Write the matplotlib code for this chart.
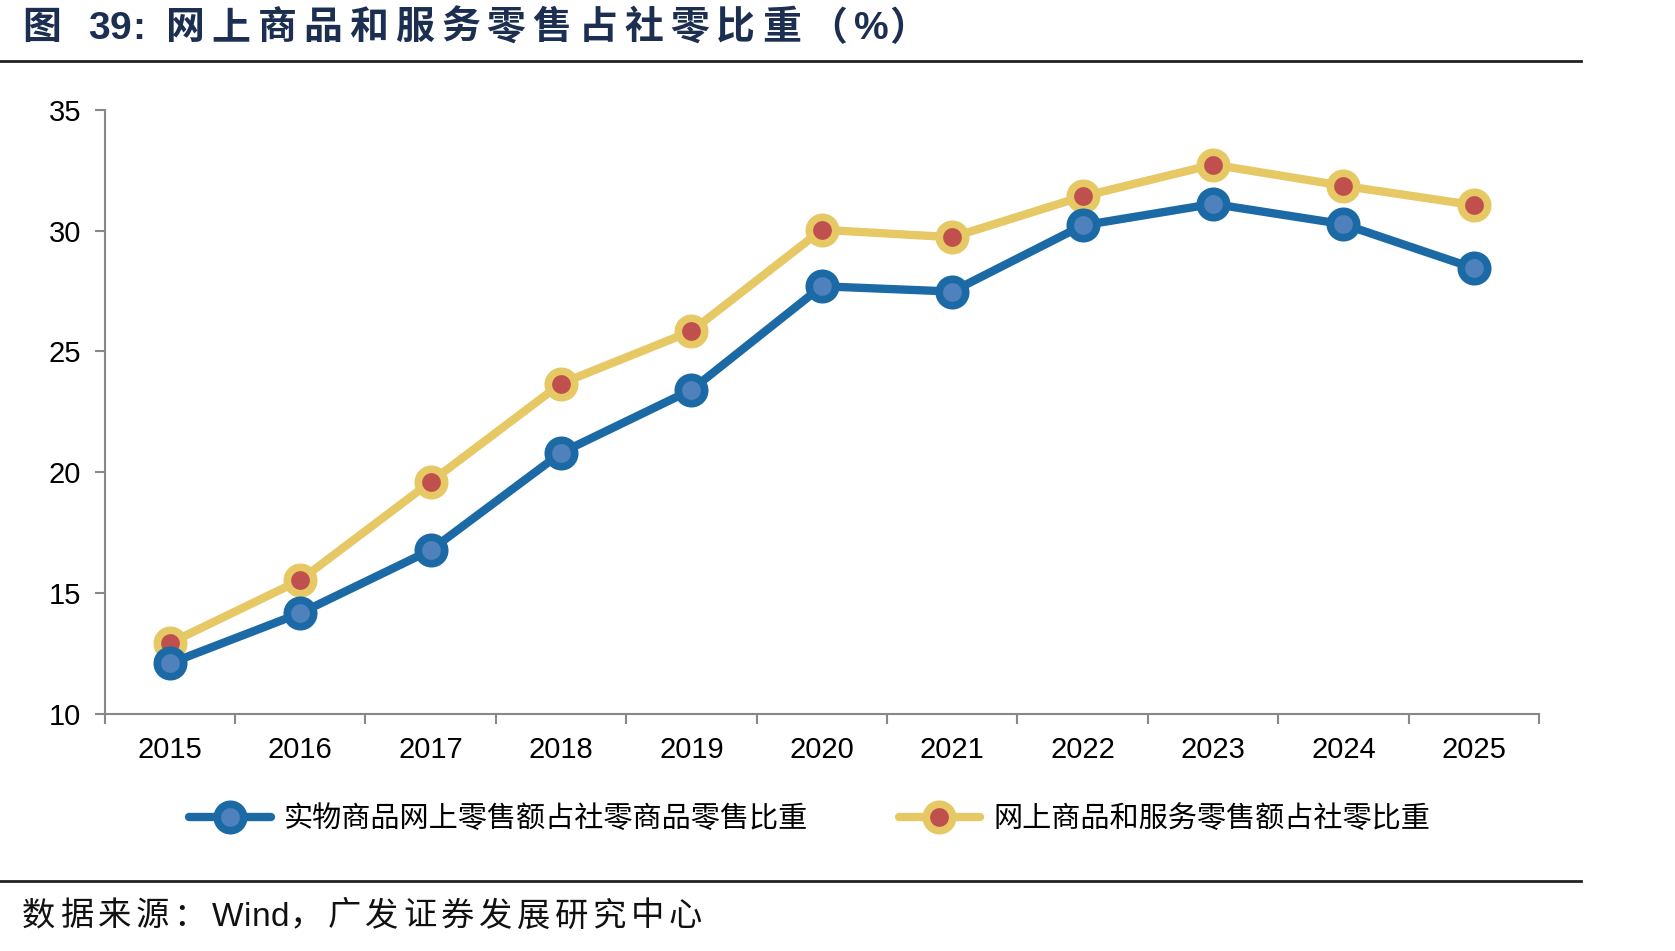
import matplotlib
matplotlib.use("Agg")
import matplotlib.pyplot as plt
from matplotlib.lines import Line2D

plt.rcParams['font.family'] = ['Liberation Sans', 'Noto Sans CJK SC', 'DejaVu Sans']

years = ['2015', '2016', '2017', '2018', '2019', '2020', '2021', '2022', '2023', '2024', '2025']
physical_share = [12.08, 14.16, 16.77, 20.80, 23.41, 27.70, 27.48, 30.22, 31.11, 30.27, 28.45]
online_share = [12.92, 15.53, 19.60, 23.67, 25.84, 30.04, 29.73, 31.42, 32.74, 31.86, 31.06]
series_names = ['实物商品网上零售额占社零商品零售比重', '网上商品和服务零售额占社零比重']
yticks = [10, 15, 20, 25, 30, 35]
title_text = '图 39: 网上商品和服务零售占社零比重（%）'
source_text = '数据来源：Wind，广发证券发展研究中心'

W, H = 1675, 951
fig = plt.figure(figsize=(W / 100, H / 100), dpi=100)
ax = fig.add_axes([104.7 / W, 1 - 713.6 / H, (1539 - 104.7) / W, (713.6 - 110) / H])

x = list(range(len(years)))
blue, blue_in = '#1B6AA6', '#4F81BD'
yel, red = '#E6C864', '#C0504D'

ax.plot(x, online_share, color=yel, lw=6, marker='o', ms=19, mfc=red, mec=yel, mew=5.5,
        solid_capstyle='round', zorder=3)
ax.plot(x, physical_share, color=blue, lw=6, marker='o', ms=19, mfc=blue_in, mec=blue, mew=5.5,
        solid_capstyle='round', zorder=4)

ax.set_xlim(-0.5, len(years) - 0.5)
ax.set_ylim(10, 35)
ax.set_yticks(yticks)
ax.set_yticklabels([str(v) for v in yticks], fontsize=21)
ax.set_xticks(x)
ax.set_xticklabels(years, fontsize=21)
ax.set_xticks([i - 0.5 for i in range(len(years) + 1)], minor=True)
ax.tick_params(axis='x', which='major', length=0, pad=16)
ax.tick_params(axis='x', which='minor', length=7, width=1.5, color='#888888', direction='out')
ax.tick_params(axis='y', length=7, width=1.5, color='#888888', direction='out', pad=10)
for s in ['top', 'right']:
    ax.spines[s].set_visible(False)
for s in ['left', 'bottom']:
    ax.spines[s].set_color('#888888')
    ax.spines[s].set_linewidth(1.5)

handles = [
    Line2D([], [], color=blue, lw=6, marker='o', ms=19, mfc=blue_in, mec=blue, mew=5.5, solid_capstyle='round'),
    Line2D([], [], color=yel, lw=6, marker='o', ms=19, mfc=red, mec=yel, mew=5.5, solid_capstyle='round'),
]
leg = fig.legend(handles, series_names, loc='center', bbox_to_anchor=(758 / 1568, 1 - 819 / H), ncol=2,
                 frameon=False, handlelength=2.8, columnspacing=3.1, handletextpad=0.45,
                 prop={'family': ['Noto Sans CJK SC'], 'size': 21})

renderer = fig.canvas.get_renderer()


def spaced_text(x_px, y_px, s, size, tracking, space_px, **kw):
    xp = x_px
    for ch in s:
        if ch == ' ':
            xp += space_px
            continue
        t = fig.text(xp / W, 1 - y_px / H, ch, fontsize=size, va='center', ha='left', **kw)
        bb = t.get_window_extent(renderer=renderer)
        xp += bb.width + (tracking if ord(ch) > 0x2000 else 0.5)


spaced_text(22, 29, title_text, 28, 7, 20, fontweight='bold', color='#1C2F50',
            family=['Liberation Sans', 'Noto Sans CJK SC', 'DejaVu Sans'])
fig.add_artist(Line2D([0, 1581 / W], [1 - 61 / H, 1 - 61 / H], color='#222222', lw=2))
fig.add_artist(Line2D([0, 1581 / W], [1 - 881 / H, 1 - 881 / H], color='#222222', lw=2))
spaced_text(22, 917, source_text, 24, 4.5, 8, color='#111111',
            family=['Liberation Sans', 'Noto Sans CJK SC', 'DejaVu Sans'])

fig.savefig('out.png', dpi=100)
